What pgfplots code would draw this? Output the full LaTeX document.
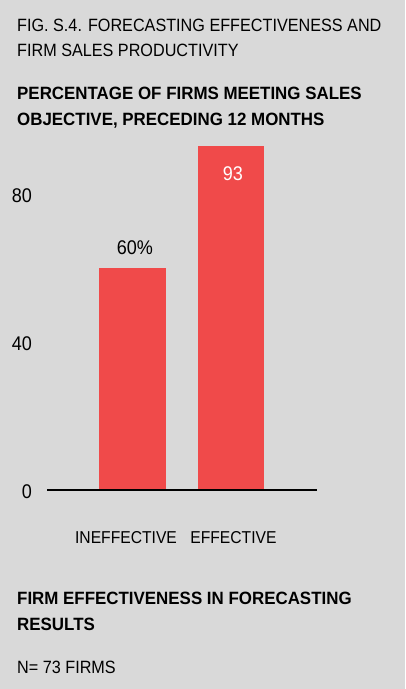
\documentclass[border=0pt]{standalone}
\usepackage{fontspec}
\setmainfont{Liberation Sans}[FakeStretch=0.91, BoldFeatures={FakeStretch=0.95}]
\usepackage{pgfplots}
\pgfplotsset{compat=1.18}
\definecolor{bgc}{RGB}{217,217,217}
\definecolor{barc}{RGB}{240,74,74}
\begin{document}
\begin{tikzpicture}
\fill[bgc] (0pt,0pt) rectangle (405pt,689pt);
\useasboundingbox (0pt,0pt) rectangle (405pt,689pt);
\tikzset{ttl/.style={anchor=base west, inner sep=0pt, font=\fontsize{17.8}{20}\selectfont},
         btl/.style={anchor=base west, inner sep=0pt, font=\fontsize{17.8}{20}\selectfont\bfseries}}
\node[ttl] at (17pt,657.3pt) {FIG. S.4. FORECASTING EFFECTIVENESS AND};
\node[ttl] at (17pt,632.3pt) {FIRM SALES PRODUCTIVITY};
\node[btl] at (17pt,589pt) {PERCENTAGE OF FIRMS MEETING SALES};
\node[btl] at (17pt,563pt) {OBJECTIVE, PRECEDING 12 MONTHS};
\node[btl] at (17pt,84.7pt) {FIRM EFFECTIVENESS IN FORECASTING};
\node[btl] at (17pt,58.3pt) {RESULTS};
\node[ttl] at (17pt,15.7pt) {N= 73 FIRMS};
\begin{axis}[at={(47pt,199.3pt)}, anchor=south west,
  scale only axis, width=270pt, height=369.5pt,
  xmin=-0.865, xmax=1.872, ymin=0, ymax=100,
  axis x line=bottom, axis y line=left,
  x axis line style={-, line width=2.3pt, black},
  y axis line style={draw=none},
  major tick length=0pt,
  axis on top=true,
  clip=false,
  xtick={-0.064,1.025}, xticklabels={INEFFECTIVE,EFFECTIVE},
  xticklabel style={anchor=base, inner sep=0pt, yshift=-54pt, font=\fontsize{17.2}{18}\selectfont},
  ytick={0,40,80},
  yticklabel style={anchor=east, inner sep=0pt, xshift=-15pt, yshift=-1.5pt, font=\fontsize{19.8}{20}\selectfont},
  /pgf/number format/assume math mode=true,
  ybar, bar width=66.7pt, bar shift=0pt,
]
\addplot[fill=barc, draw=none, nodes near coords={60\%},
  nodes near coords style={anchor=base, inner sep=0pt, yshift=13pt, xshift=2.5pt, black, font=\fontsize{19.8}{20}\selectfont}]
  coordinates {(0,60)};
\addplot[fill=barc, draw=none, nodes near coords={93},
  nodes near coords style={anchor=base, inner sep=0pt, yshift=-34.7pt, xshift=2pt, white, font=\fontsize{19.8}{20}\selectfont}]
  coordinates {(1,93)};
\end{axis}
\end{tikzpicture}
\end{document}
